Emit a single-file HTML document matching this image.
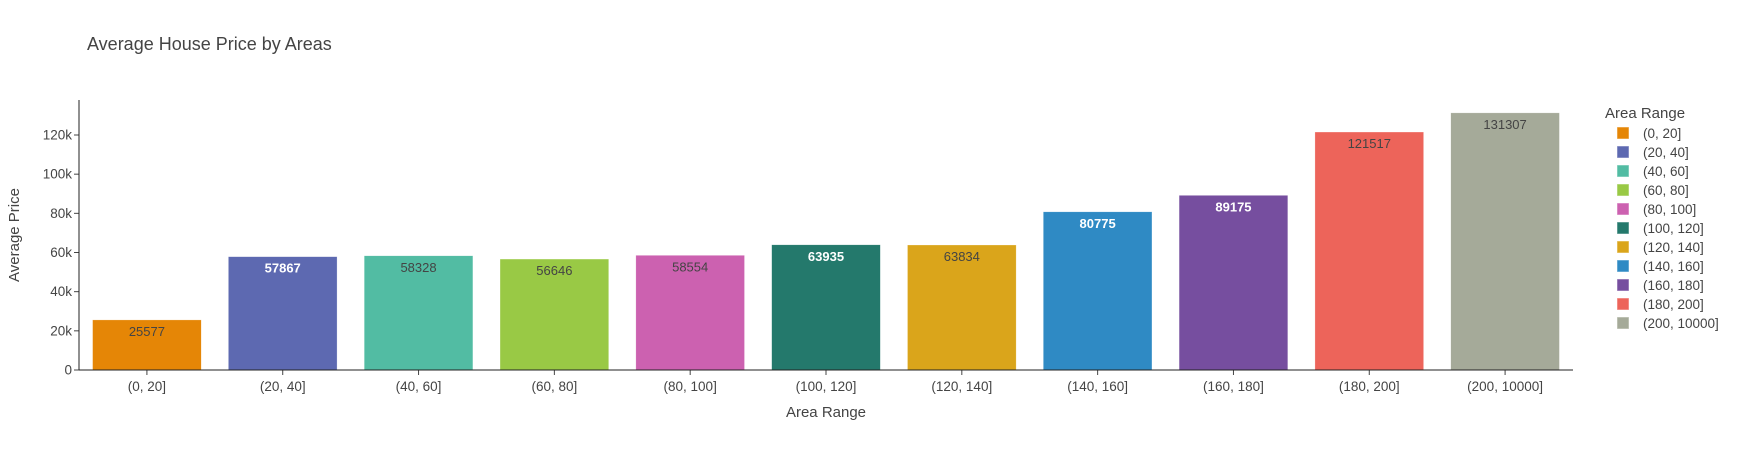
<!DOCTYPE html>
<html><head><meta charset="utf-8"><style>
body{margin:0;background:#fff;font-family:"Liberation Sans",Arial,sans-serif;}
svg text{font-family:"Liberation Sans",Arial,sans-serif;}
</style></head><body>
<svg id="chart" width="1741" height="450" xmlns="http://www.w3.org/2000/svg">
<text x="87" y="50" font-size="18" fill="#444">Average House Price by Areas</text>
<g id="plot"></g>
<g id="legend"></g>
</svg>
<script>
const categories=["(0, 20]","(20, 40]","(40, 60]","(60, 80]","(80, 100]","(100, 120]","(120, 140]","(140, 160]","(160, 180]","(180, 200]","(200, 10000]"];
const values=[25577,57867,58328,56646,58554,63935,63834,80775,89175,121517,131307];
const colors=["#E58606","#5D69B1","#52BCA3","#99C945","#CC61B0","#24796C","#DAA51B","#2F8AC4","#764E9F","#ED645A","#A5AA99"];
const yTicks=[0,20000,40000,60000,80000,100000,120000];
const yTickLabels=["0","20k","40k","60k","80k","100k","120k"];
const whiteLabel=[false,true,false,false,false,true,false,true,true,false,false];
const NS="http://www.w3.org/2000/svg";
const x0=79,x1=1573,yBase=370,yTop=100,pxPer=(370-135)/120000;
const band=(x1-x0)/categories.length;
const xS=i=>x0+band*(i+0.5);
const yS=v=>yBase-v*pxPer;
const plot=document.getElementById('plot');
function mk(t,a,p){const e=document.createElementNS(NS,t);for(const k in a)e.setAttribute(k,a[k]);(p||plot).appendChild(e);return e;}
values.forEach((v,i)=>{
 const w=band*0.8;
 const r=mk('rect',{x:xS(i)-w/2,y:yS(v),width:w,height:yBase-yS(v),fill:colors[i],stroke:"rgba(255,255,255,0.5)","stroke-width":0.5});
 
 
 const t=mk('text',{x:xS(i),y:yS(v)+16,"text-anchor":"middle","font-size":13,fill:whiteLabel[i]?"#fff":"#444","font-weight":whiteLabel[i]?"bold":"normal"});
 t.textContent=v;
 
 
 mk('line',{x1:xS(i),x2:xS(i),y1:yBase,y2:yBase+5,stroke:"#444"});
 const xl=mk('text',{x:xS(i),y:yBase+21,"text-anchor":"middle","font-size":13.5,fill:"#444"});
 xl.textContent=categories[i];
 
 
});
yTicks.forEach((v,i)=>{
 mk('line',{x1:x0-5,x2:x0,y1:yS(v),y2:yS(v),stroke:"#444"});
 const t=mk('text',{x:x0-7,y:yS(v)+4.5,"text-anchor":"end","font-size":13.5,fill:"#444"});
 t.textContent=yTickLabels[i];
 
 
});
const ax=mk('line',{x1:x0,x2:x0,y1:yTop,y2:yBase,stroke:"#222"});


const bx=mk('line',{x1:x0,x2:x1,y1:yBase,y2:yBase,stroke:"#222"});


const xt=mk('text',{x:(x0+x1)/2,y:417,"text-anchor":"middle","font-size":15,fill:"#444"});
xt.textContent="Area Range";


const yt=mk('text',{x:0,y:0,transform:"translate(19,235) rotate(-90)","text-anchor":"middle","font-size":15,fill:"#444"});
yt.textContent="Average Price";


const lg=document.getElementById('legend');
const lt=mk('text',{x:1605,y:118,"font-size":15,fill:"#444"},lg);
lt.textContent="Area Range";


categories.forEach((c,i)=>{
 const y=133+i*19;
 const g=mk('g',{},lg);
 
 
 mk('rect',{x:1617,y:y-6,width:12,height:12,fill:colors[i],stroke:"rgba(255,255,255,0.5)"},g);
 const t=mk('text',{x:1643,y:y+5,"font-size":13.5,fill:"#444"},g);
 t.textContent=c;
});
</script>
</body></html>
